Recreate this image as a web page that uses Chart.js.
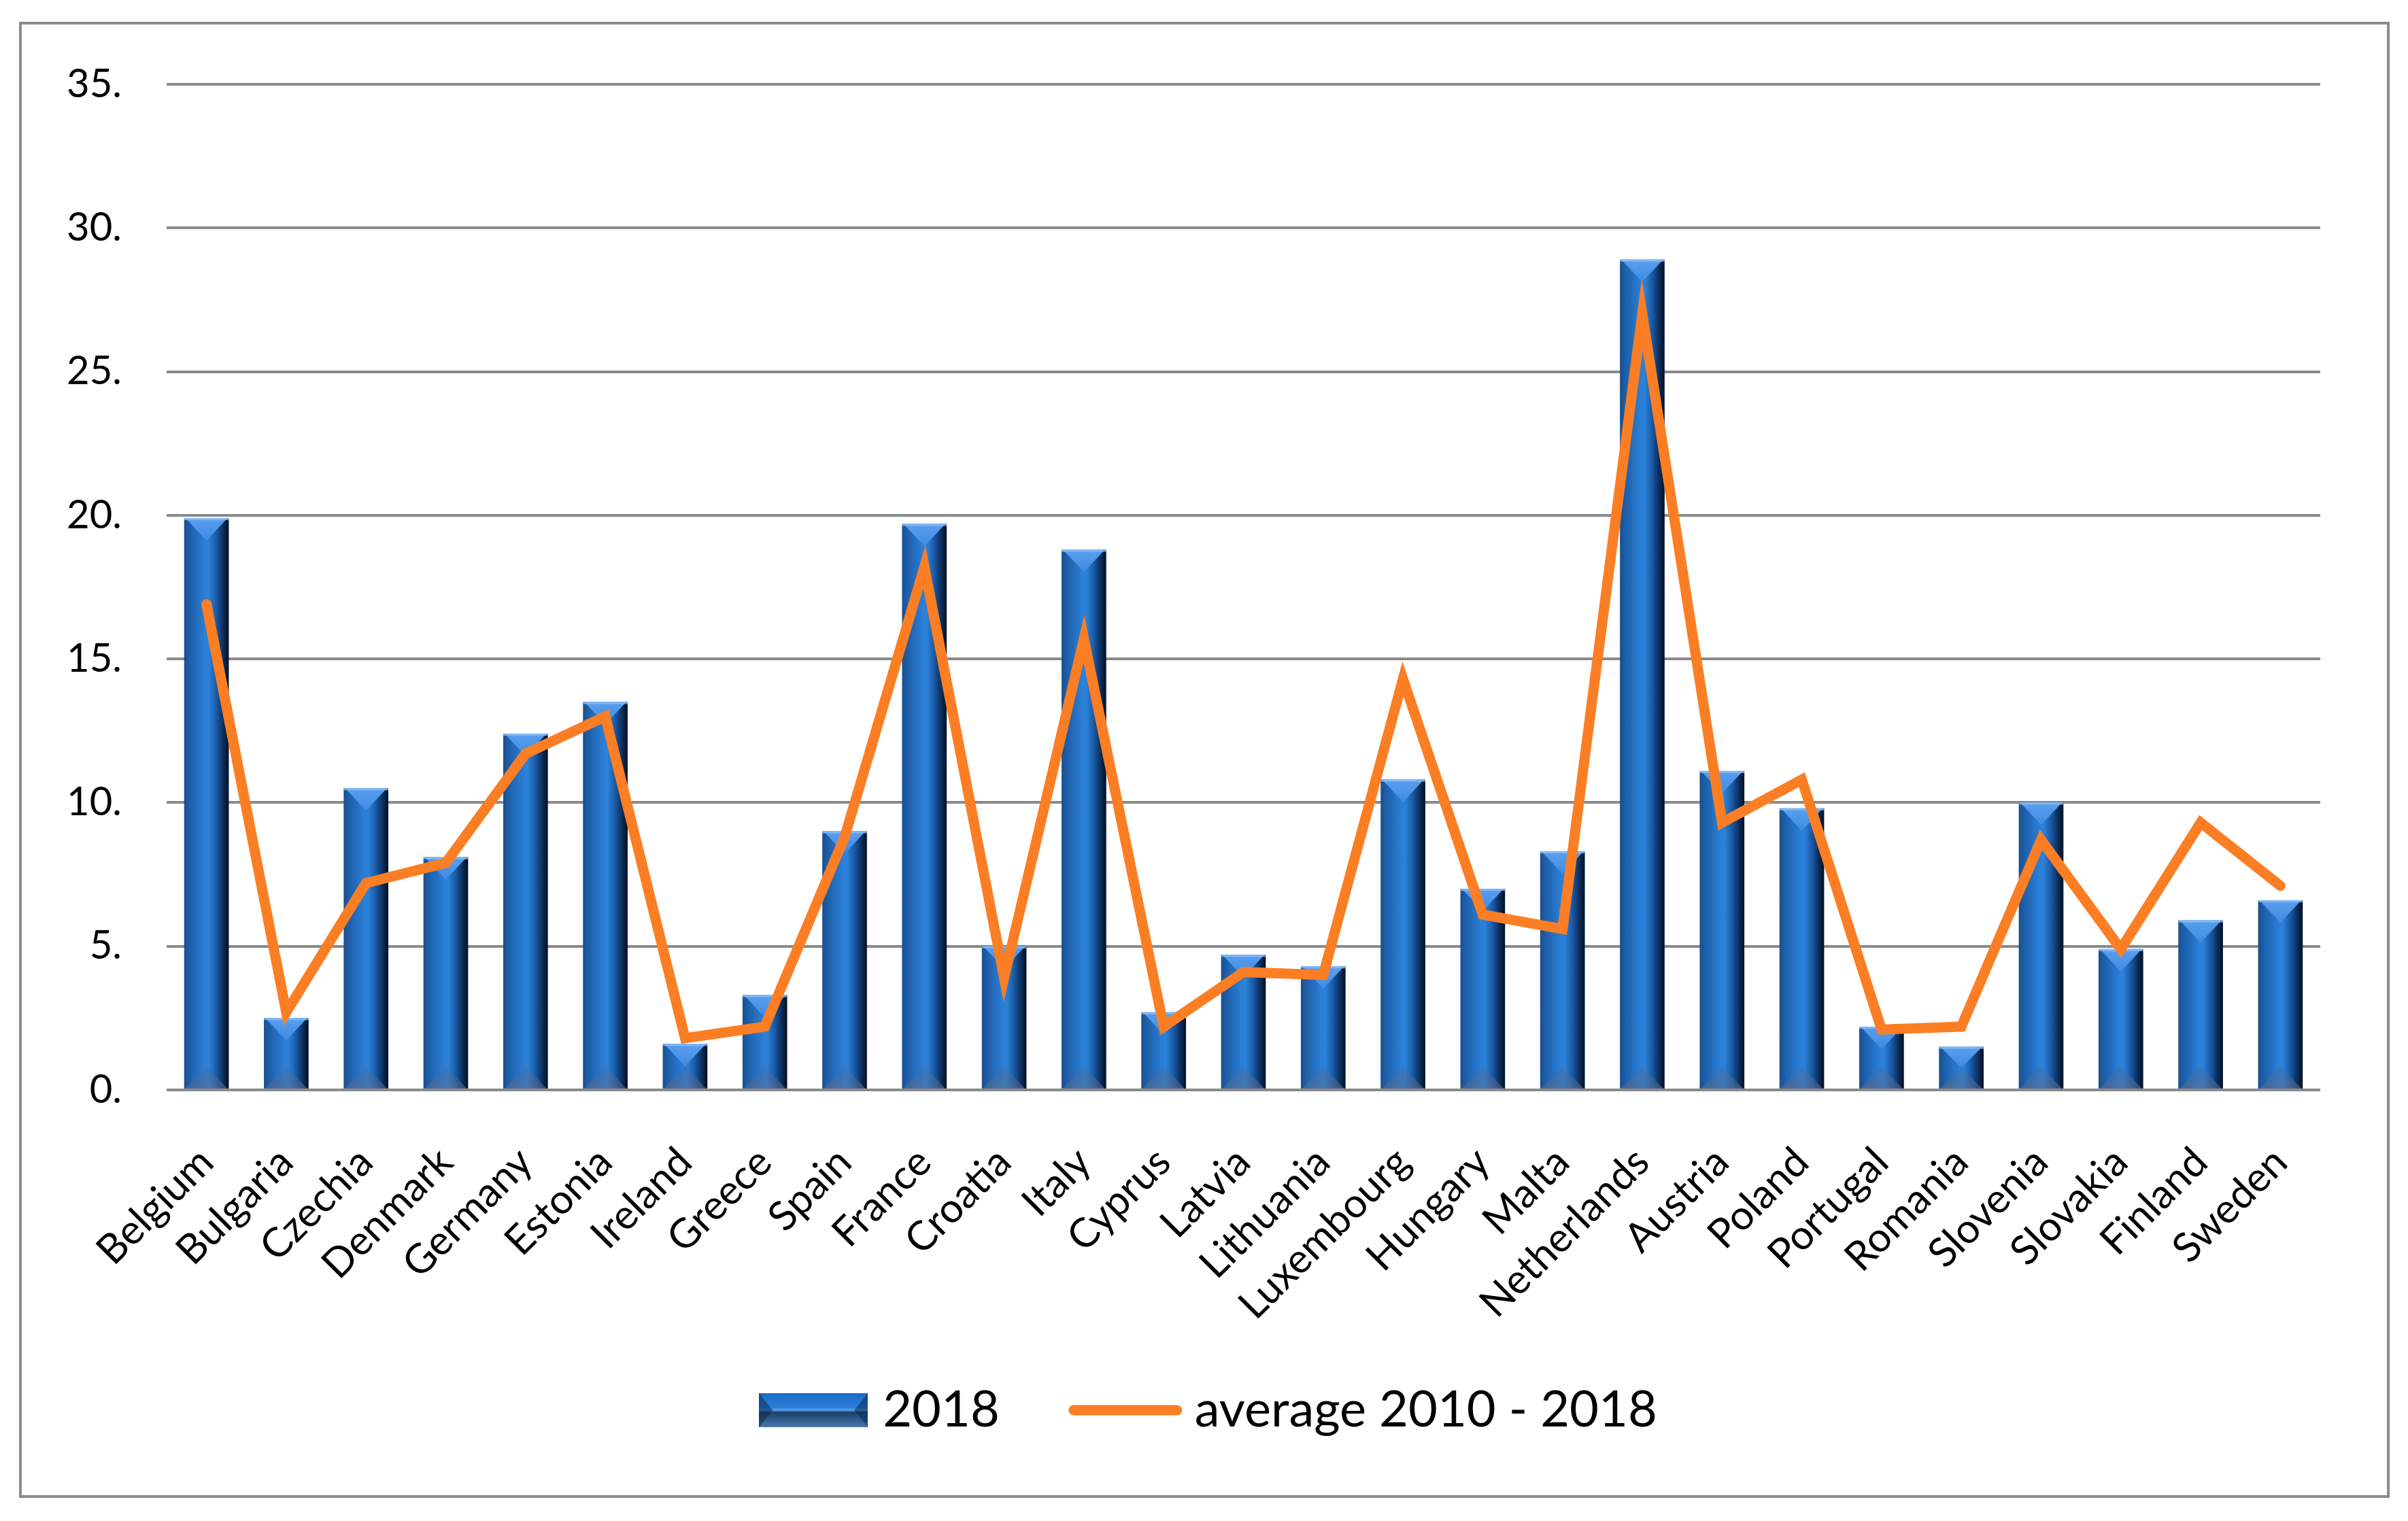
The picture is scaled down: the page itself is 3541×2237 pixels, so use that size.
<!DOCTYPE html>
<html>
<head>
<meta charset="utf-8">
<script src="https://cdn.jsdelivr.net/npm/chart.js@4.4.1/dist/chart.umd.min.js"></script>
<style>
    html, body { margin: 0; padding: 0; background: #fff; }
    #frame {
        position: absolute; left: 28px; top: 32px;
        width: 3478px; height: 2163px;
        border: 4px solid #8c8c8c;
    }
    canvas { display: block; }
</style>
</head>
<body>
<div id="frame"><canvas id="chart" width="3478" height="2163"></canvas></div>
<script>
// Categories and series
const countries = ['Belgium', 'Bulgaria', 'Czechia', 'Denmark', 'Germany', 'Estonia', 'Ireland', 'Greece',
    'Spain', 'France', 'Croatia', 'Italy', 'Cyprus', 'Latvia', 'Lithuania', 'Luxembourg', 'Hungary', 'Malta',
    'Netherlands', 'Austria', 'Poland', 'Portugal', 'Romania', 'Slovenia', 'Slovakia', 'Finland', 'Sweden'];

const values2018 = [19.9, 2.5, 10.5, 8.1, 12.4, 13.5, 1.6, 3.3, 9.0, 19.7, 5.0, 18.8, 2.7, 4.7, 4.3, 10.8, 7.0, 8.3,
    28.9, 11.1, 9.8, 2.2, 1.5, 10.0, 4.9, 5.9, 6.6];

const average2010to2018 = [16.9, 2.7, 7.2, 7.9, 11.7, 13.0, 1.8, 2.2, 8.8, 18.2, 3.9, 15.7, 2.2, 4.1, 4.0, 14.3, 6.1, 5.6,
    27.0, 9.3, 10.8, 2.1, 2.2, 8.7, 4.9, 9.3, 7.1];

const seriesNames = ['2018', 'average 2010 - 2018'];

const FONT = 'Lato, "Noto Sans", sans-serif';
const ORANGE = '#fc7e24';
const X_AXIS_TRIM = 101;

// Draw one bevelled bar (vertical)
function drawBevelBar(ctx, left, top, w, h) {
    ctx.save();
    const g = ctx.createLinearGradient(left, 0, left + w, 0);
    g.addColorStop(0, '#1b4f8e');
    g.addColorStop(0.12, '#1d5ea8');
    g.addColorStop(0.45, '#2a7ed6');
    g.addColorStop(0.55, '#2c82da');
    g.addColorStop(0.72, '#1a5aa6');
    g.addColorStop(0.88, '#0b2d5a');
    g.addColorStop(1, '#020f22');
    ctx.fillStyle = g;
    ctx.fillRect(left, top, w, h);

    const d = Math.min(w * 0.5, h / 2);
    // top facet
    const tg = ctx.createLinearGradient(0, top, 0, top + d);
    tg.addColorStop(0, '#5a9ff0');
    tg.addColorStop(1, '#3f8be0');
    ctx.fillStyle = tg;
    ctx.beginPath();
    ctx.moveTo(left + 2, top);
    ctx.lineTo(left + w - 2, top);
    ctx.lineTo(left + w / 2, top + d);
    ctx.closePath();
    ctx.fill();
    ctx.fillStyle = 'rgba(140,190,245,0.8)';
    ctx.fillRect(left, top, w, 3);

    // bottom facet
    const bg = ctx.createLinearGradient(0, top + h - d, 0, top + h);
    bg.addColorStop(0, 'rgba(80,100,135,0.25)');
    bg.addColorStop(1, 'rgba(90,110,145,0.6)');
    ctx.fillStyle = bg;
    ctx.beginPath();
    ctx.moveTo(left + 2, top + h);
    ctx.lineTo(left + w / 2, top + h - d);
    ctx.lineTo(left + w - 2, top + h);
    ctx.closePath();
    ctx.fill();
    ctx.restore();
}

// Legend swatches
function makeBarSwatch() {
    const c = document.createElement('canvas');
    c.width = 160; c.height = 50;
    const ctx = c.getContext('2d');
    const g = ctx.createLinearGradient(0, 0, 0, 50);
    g.addColorStop(0, '#1d6cc8');
    g.addColorStop(0.42, '#2a7fd8');
    g.addColorStop(0.5, '#5aa2f0');
    g.addColorStop(0.56, '#1c416c');
    g.addColorStop(1, '#4a77aa');
    ctx.fillStyle = g;
    ctx.fillRect(0, 0, 160, 50);
    ctx.fillStyle = 'rgba(10,40,80,0.55)';
    ctx.beginPath(); ctx.moveTo(0, 0); ctx.lineTo(20, 25); ctx.lineTo(0, 50); ctx.fill();
    ctx.beginPath(); ctx.moveTo(160, 0); ctx.lineTo(140, 25); ctx.lineTo(160, 50); ctx.fill();
    return c;
}

function makeLineSwatch() {
    const c = document.createElement('canvas');
    c.width = 170; c.height = 18;
    const ctx = c.getContext('2d');
    ctx.strokeStyle = ORANGE;
    ctx.lineWidth = 15;
    ctx.lineCap = 'round';
    ctx.beginPath(); ctx.moveTo(9, 9); ctx.lineTo(161, 9); ctx.stroke();
    return c;
}

const barSwatch = makeBarSwatch();
const lineSwatch = makeLineSwatch();

const bevelBars = {
    id: 'bevelBars',
    beforeDatasetDraw(chart, args) {
        if (args.meta.type !== 'bar') return;
        const ctx = chart.ctx;
        args.meta.data.forEach(bar => {
            const p = bar.getProps(['x', 'y', 'base', 'width'], true);
            drawBevelBar(ctx, p.x - p.width / 2, p.y, p.width, p.base - p.y);
        });
        return false;
    }
};

// Legend sits a little right of centre; x labels may run below the trimmed axis box
const layoutTweaks = {
    id: 'layoutTweaks',
    afterLayout(chart) {
        if (chart.legend) {
            chart.legend.left += 62;
            chart.legend.right += 62;
        }
        chart.scales.x.bottom += X_AXIS_TRIM;
    }
};

const ctx = document.getElementById('chart').getContext('2d');
new Chart(ctx, {
    data: {
        labels: countries,
        datasets: [
            {
                type: 'bar',
                label: seriesNames[0],
                data: values2018,
                backgroundColor: '#1f6ccc',
                barPercentage: 0.56,
                categoryPercentage: 1.0,
                order: 1
            },
            {
                type: 'line',
                label: seriesNames[1],
                data: average2010to2018,
                borderColor: ORANGE,
                borderWidth: 15,
                borderCapStyle: 'round',
                borderJoinStyle: 'miter',
                pointRadius: 0,
                tension: 0,
                order: 0
            }
        ]
    },
    options: {
        responsive: false,
        animation: false,
        devicePixelRatio: 1,
        layout: { padding: { left: 0, right: 98, top: 88, bottom: 78 } },
        plugins: {
            tooltip: { enabled: false },
            legend: {
                position: 'bottom',
                labels: {
                    color: '#000',
                    font: { family: FONT, size: 74 },
                    usePointStyle: true,
                    pointStyleWidth: 130,
                    boxHeight: 50,
                    padding: 120,
                    generateLabels: () => [
                        { text: seriesNames[0], pointStyle: barSwatch, datasetIndex: 0, fontColor: '#000',
                          fillStyle: 'transparent', strokeStyle: 'transparent', lineWidth: 0, hidden: false },
                        { text: seriesNames[1], pointStyle: lineSwatch, datasetIndex: 1, fontColor: '#000',
                          fillStyle: 'transparent', strokeStyle: 'transparent', lineWidth: 0, hidden: false }
                    ]
                }
            }
        },
        scales: {
            x: {
                offset: true,
                grid: { display: false },
                border: { display: false },
                ticks: {
                    color: '#000',
                    font: { family: FONT, size: 60 },
                    maxRotation: 45,
                    minRotation: 45,
                    autoSkip: false,
                    padding: 63
                },
                afterFit: scale => { scale.height -= X_AXIS_TRIM; }
            },
            y: {
                min: 0,
                max: 35,
                border: { display: false },
                grid: { color: '#8a8a8a', lineWidth: 4, drawTicks: false },
                ticks: {
                    stepSize: 5,
                    color: '#000',
                    font: { family: FONT, size: 58 },
                    padding: 66,
                    callback: v => v + '.'
                },
                afterFit: scale => { scale.paddingTop = 0; scale.paddingBottom = 0; }
            }
        }
    },
    plugins: [bevelBars, layoutTweaks]
});
</script>
</body>
</html>
